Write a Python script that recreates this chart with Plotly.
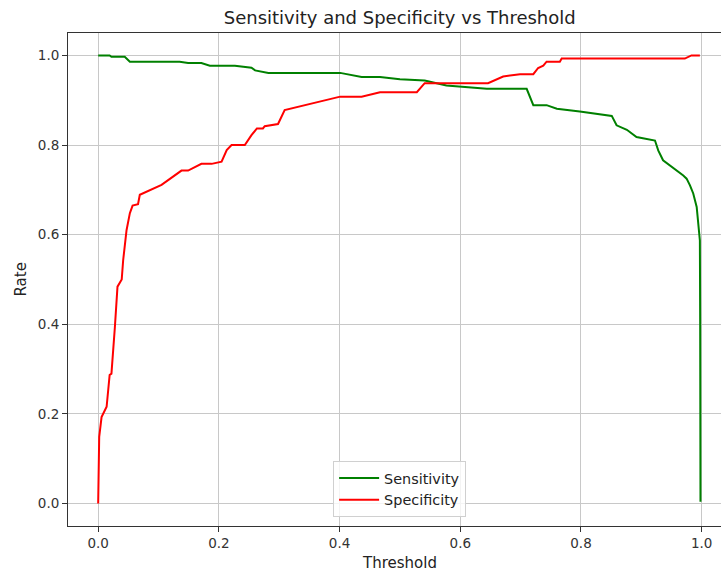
import plotly.graph_objects as go

# Sensitivity curve (threshold, rate)
sens_thr = [0.0, 0.019, 0.022, 0.044, 0.0525, 0.135, 0.149, 0.171, 0.185, 0.2266, 0.254, 0.26, 0.282,
            0.401, 0.4365, 0.467, 0.5, 0.541, 0.577, 0.644, 0.71, 0.721, 0.743, 0.760, 0.798, 0.851,
            0.859, 0.876, 0.892, 0.9226, 0.928, 0.936, 0.9695, 0.975, 0.9806, 0.986, 0.9917, 0.9955,
            0.997, 0.9975, 0.998, 0.998]
sens_val = [1.0, 1.0, 0.997, 0.997, 0.986, 0.986, 0.983, 0.983, 0.977, 0.977, 0.9725, 0.9665, 0.961,
            0.961, 0.952, 0.952, 0.947, 0.944, 0.933, 0.9256, 0.9256, 0.889, 0.889, 0.881, 0.875, 0.865,
            0.844, 0.834, 0.818, 0.810, 0.788, 0.766, 0.732, 0.725, 0.710, 0.692, 0.662, 0.617,
            0.587, 0.40, 0.20, 0.004]

# Specificity curve (threshold, rate)
spec_thr = [0.0, 0.0017, 0.0056, 0.014, 0.019, 0.022, 0.0277, 0.032, 0.039, 0.0414, 0.047, 0.0525,
            0.057, 0.066, 0.069, 0.105, 0.138, 0.149, 0.171, 0.188, 0.2045, 0.213, 0.221, 0.243,
            0.254, 0.263, 0.273, 0.276, 0.298, 0.309, 0.401, 0.4365, 0.467, 0.528, 0.541, 0.646,
            0.671, 0.699, 0.721, 0.729, 0.7375, 0.743, 0.765, 0.768, 0.972, 0.983, 0.997]
spec_val = [0.0, 0.149, 0.193, 0.216, 0.287, 0.290, 0.394, 0.484, 0.500, 0.543, 0.610, 0.648,
            0.665, 0.668, 0.689, 0.711, 0.743, 0.743, 0.758, 0.758, 0.763, 0.789, 0.800, 0.800,
            0.822, 0.837, 0.837, 0.842, 0.847, 0.878, 0.908, 0.908, 0.918, 0.918, 0.938, 0.938,
            0.953, 0.958, 0.958, 0.972, 0.977, 0.986, 0.986, 0.993, 0.993, 1.0, 1.0]

tick_vals = [0.0, 0.2, 0.4, 0.6, 0.8, 1.0]
tick_text = ["0.0", "0.2", "0.4", "0.6", "0.8", "1.0"]

FONT = "DejaVu Sans"
fig = go.Figure()
fig.add_trace(go.Scatter(x=sens_thr, y=sens_val, mode="lines", name="Sensitivity",
                         line=dict(color="#008000", width=2)))
fig.add_trace(go.Scatter(x=spec_thr, y=spec_val, mode="lines", name="Specificity",
                         line=dict(color="#ff0000", width=2)))

axis_common = dict(showgrid=True, gridcolor="#c8c8c8", gridwidth=1, zeroline=False,
                   ticks="outside", ticklen=5, tickwidth=1, tickcolor="#333333",
                   tickfont=dict(family=FONT, size=13.5, color="#333333"),
                   showline=True, linecolor="#333333", linewidth=1)

fig.update_layout(
    width=721, height=576,
    margin=dict(l=68, r=0, t=33, b=50),
    plot_bgcolor="white", paper_bgcolor="white",
    title=dict(text="Sensitivity and Specificity vs Threshold", x=0.508, xref="paper",
               xanchor="center", y=1 - 18 / 576, yref="container", yanchor="middle",
               font=dict(family=FONT, size=18, color="#222222")),
    xaxis=dict(range=[-0.05, 1.032], tickvals=tick_vals, ticktext=tick_text, mirror=True,
               **axis_common),
    yaxis=dict(range=[-0.05, 1.05], tickvals=tick_vals, ticktext=tick_text, mirror=False,
               **axis_common),
    legend=dict(x=0.406, y=0.018, xanchor="left", yanchor="bottom", itemwidth=40,
                bgcolor="rgba(255,255,255,0.8)", bordercolor="#d0d0d0", borderwidth=1,
                font=dict(family=FONT, size=14.4, color="#222222")),
    showlegend=True,
    annotations=[
        dict(text="Threshold", x=0.508, xref="paper", y=-0.075, yref="paper",
             showarrow=False, xanchor="center", yanchor="middle",
             font=dict(family=FONT, size=15, color="#222222")),
        dict(text="Rate", x=-0.0735, xref="paper", y=0.5, yref="paper", textangle=-90,
             showarrow=False, xanchor="center", yanchor="middle",
             font=dict(family=FONT, size=15, color="#222222")),
    ],
)

fig.write_html("out.html")
